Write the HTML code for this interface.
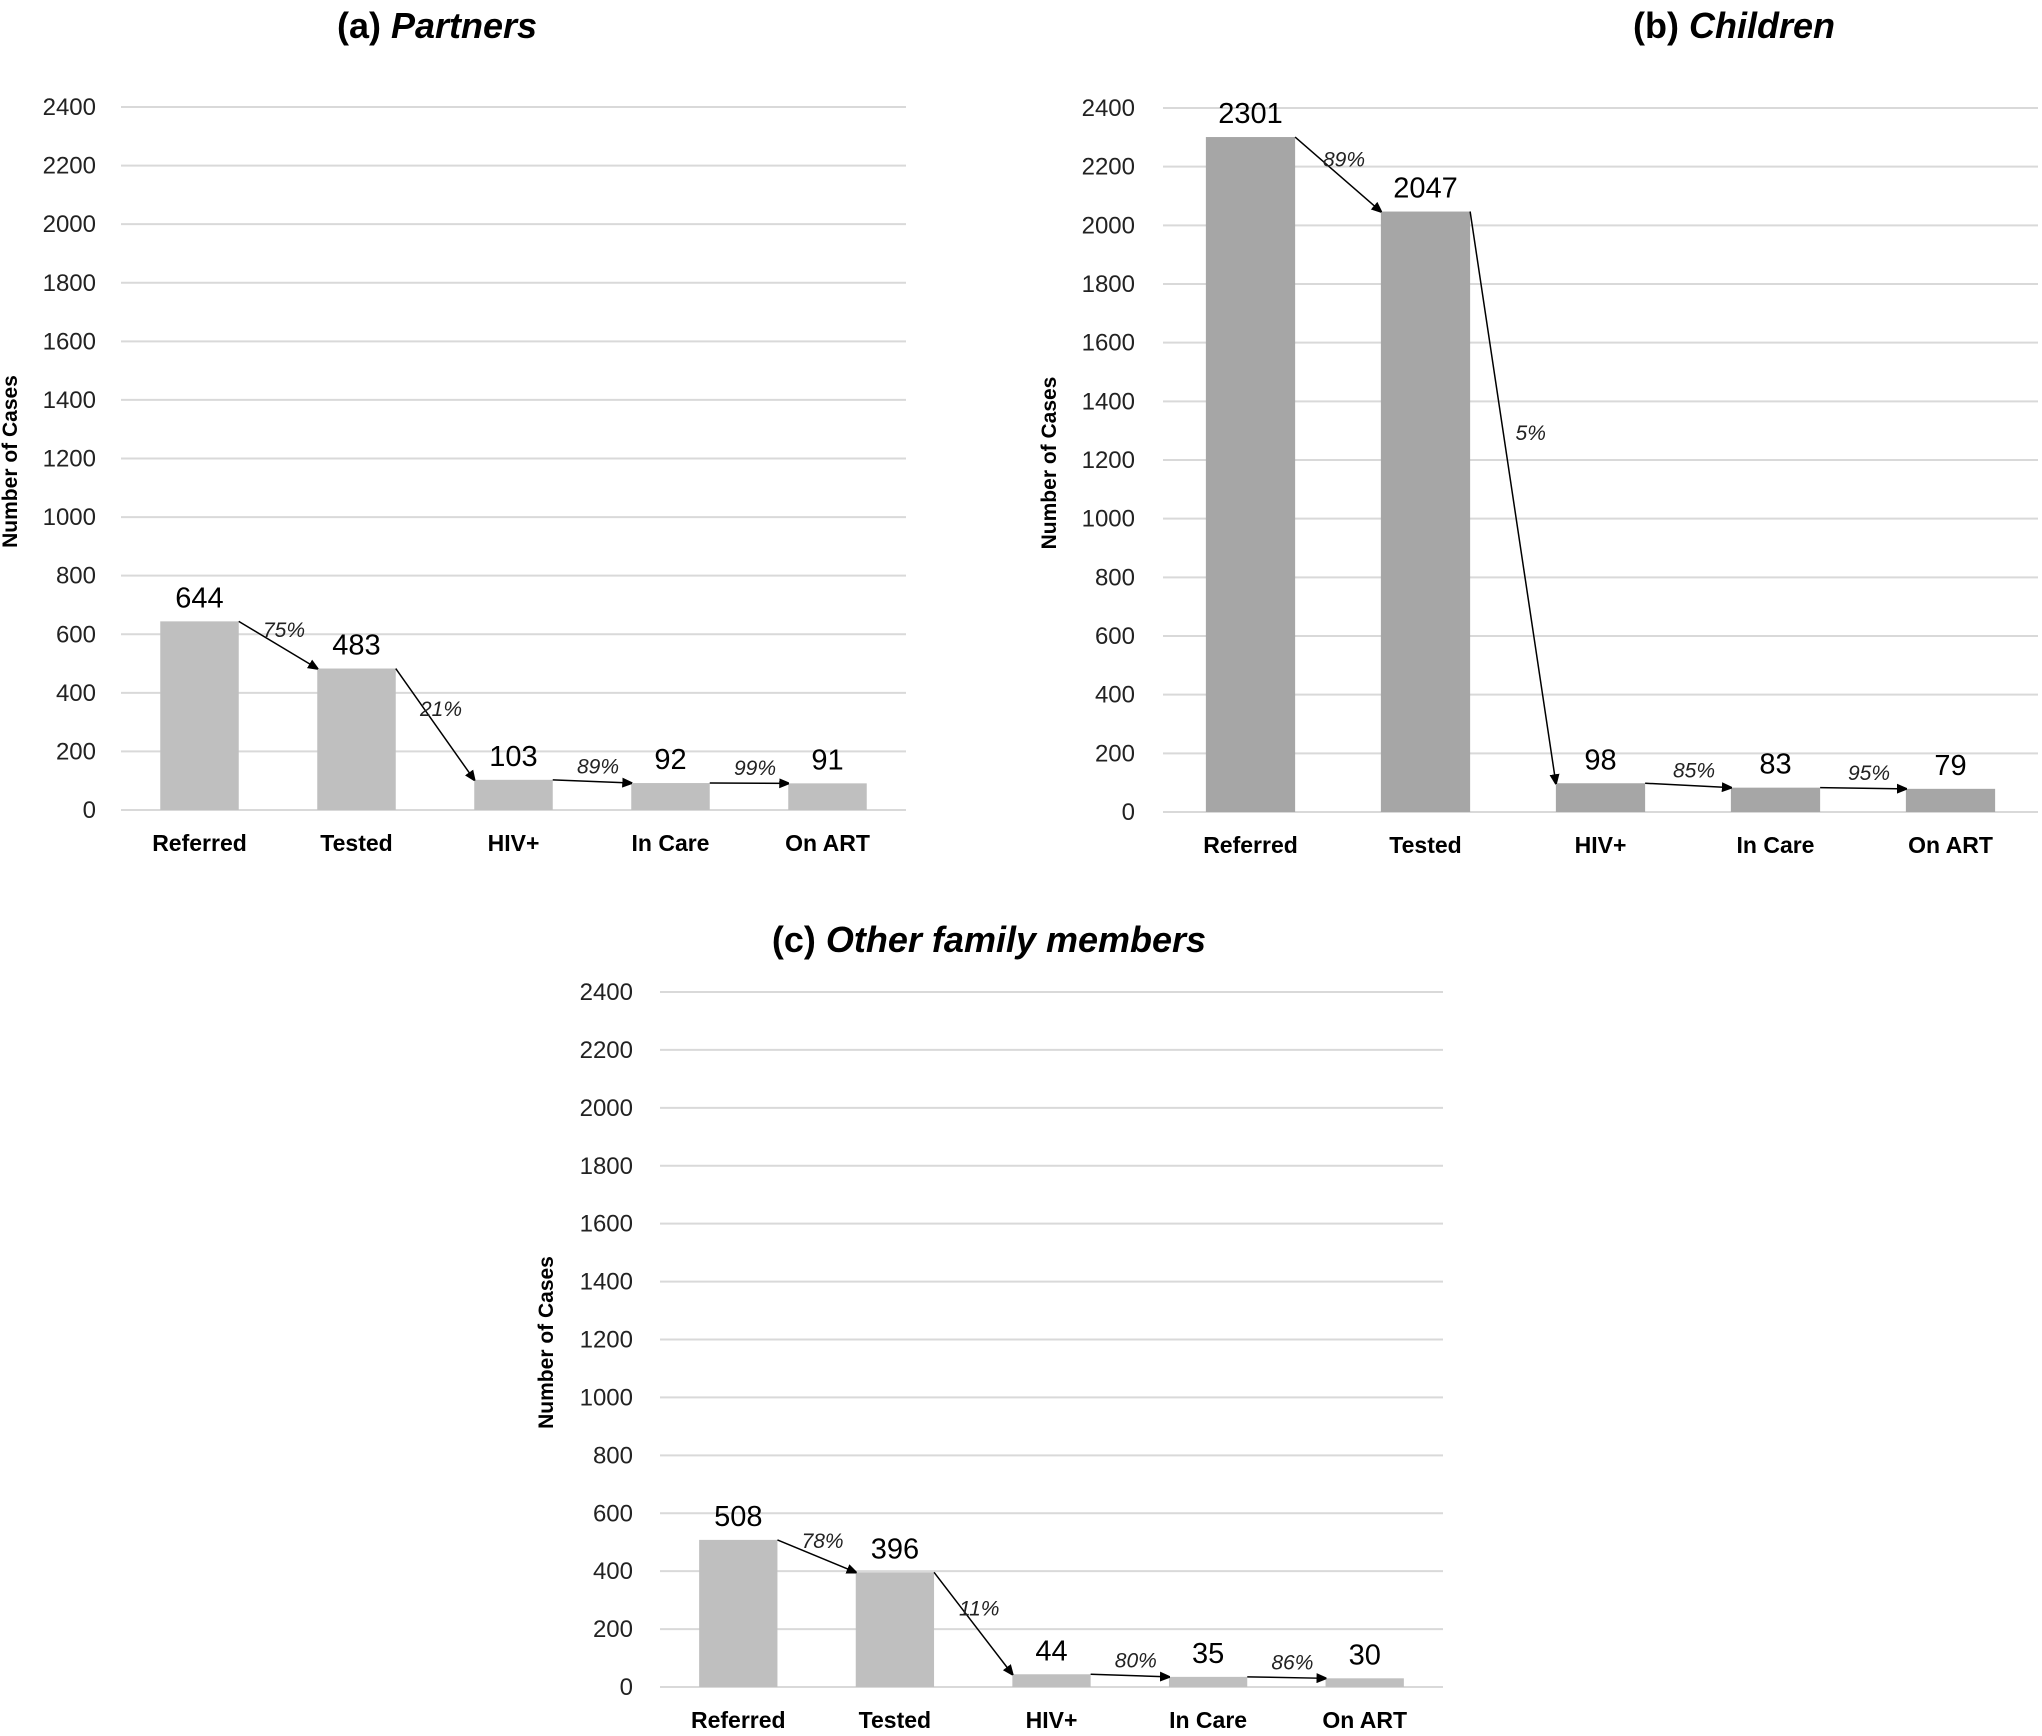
<!DOCTYPE html>
<html><head><meta charset="utf-8"><style>
html,body{margin:0;padding:0;background:#fff}
svg{display:block}
text{font-family:"Liberation Sans",sans-serif}
</style></head><body>
<svg id="fig" width="2042" height="1736" viewBox="0 0 2042 1736" xmlns="http://www.w3.org/2000/svg">
<defs><marker id="ah" markerWidth="10" markerHeight="10" refX="9" refY="5" orient="auto" markerUnits="userSpaceOnUse"><path d="M0,0 L12,5 L0,10 z" fill="#000"/></marker></defs>
</svg>
<script>
const categories = ["Referred","Tested","HIV+","In Care","On ART"];
const tickValues = [0,200,400,600,800,1000,1200,1400,1600,1800,2000,2200,2400];
const partnersValues = [644,483,103,92,91];
const partnersPct = ["75%","21%","89%","99%"];
const childrenValues = [2301,2047,98,83,79];
const childrenPct = ["89%","5%","85%","95%"];
const otherValues = [508,396,44,35,30];
const otherPct = ["78%","11%","80%","86%"];

const NS="http://www.w3.org/2000/svg";
const svg=document.getElementById('fig');
function mk(tag,attrs,parent,txt){const e=document.createElementNS(NS,tag);for(const k in attrs)e.setAttribute(k,attrs[k]);if(txt!==undefined)e.textContent=txt;(parent||svg).appendChild(e);return e;}

const panels=[
 {key:"partners",label:"(a)",name:"Partners",vals:partnersValues,pct:partnersPct,x0:121,x1:906,yT:107,y0:810,tickR:96,ylabX:17,titleX:437,titleY:38,color:"#bfbfbf",bw:0.5},
 {key:"children",label:"(b)",name:"Children",vals:childrenValues,pct:childrenPct,x0:1163,x1:2038,yT:108,y0:812,tickR:1135,ylabX:1056,titleX:1734,titleY:38,color:"#a6a6a6",bw:0.51},
 {key:"other",label:"(c)",name:"Other family members",vals:otherValues,pct:otherPct,x0:660,x1:1443,yT:992,y0:1687,tickR:633,ylabX:553,titleX:989,titleY:952,color:"#bfbfbf",bw:0.5}
];

panels.forEach(p=>{
  const g=mk('g',{});
  
  
  const maxV=2400;
  const y=v=>p.y0-(v/maxV)*(p.y0-p.yT);
  const band=(p.x1-p.x0)/categories.length;
  const cx=i=>p.x0+band*(i+0.5);
  const bw=band*p.bw;
  const t=mk('text',{x:p.titleX,y:p.titleY,'text-anchor':'middle','font-size':36,'font-weight':'bold',fill:'#000'},g);
  
  
  mk('tspan',{},t,p.label+' ');
  mk('tspan',{'font-style':'italic'},t,p.name);
  tickValues.forEach(v=>{
    const l=mk('line',{x1:p.x0,x2:p.x1,y1:y(v),y2:y(v),stroke:'#d9d9d9','stroke-width':2},g);
    
    
    const tl=mk('text',{x:p.tickR,y:y(v)+8,'text-anchor':'end','font-size':24,fill:'#222'},g,String(v));
    
    
  });
  const yc=(p.y0+p.yT)/2+3;
  const yl=mk('text',{x:p.ylabX,y:yc,'text-anchor':'middle','font-size':21,'font-weight':'bold',fill:'#000',transform:`rotate(-90 ${p.ylabX} ${yc})`},g,'Number of Cases');
  
  
  p.vals.forEach((v,i)=>{
    const r=mk('rect',{x:cx(i)-bw/2,y:y(v),width:bw,height:p.y0-y(v),fill:p.color},g);
    
    
    const vl=mk('text',{x:cx(i),y:y(v)-14,'text-anchor':'middle','font-size':29,fill:'#000'},g,String(v));
    
    
    const cl=mk('text',{x:cx(i),y:p.y0+41,'text-anchor':'middle','font-size':23,'font-weight':'bold',fill:'#000'},g,categories[i]);
    
    
  });
  for(let i=0;i<p.vals.length-1;i++){
    const xa=cx(i)+bw/2, ya=y(p.vals[i]);
    const xb=cx(i+1)-bw/2, yb=y(p.vals[i+1]);
    const a=mk('line',{x1:xa,y1:ya,x2:xb,y2:yb,stroke:'#000','stroke-width':1.5,'marker-end':'url(#ah)'},g);
    
    
    const steep=Math.abs(yb-ya)>150;
    const mx=(xa+xb)/2, my=(ya+yb)/2;
    const px=steep? xa+(xb-xa)*0.45+22 : mx+6;
    const py=steep? ya+(yb-ya)*0.4 : my-8;
    const pl=mk('text',{x:px,y:py,'text-anchor':'middle','font-size':21,'font-style':'italic',fill:'#222'},g,p.pct[i]);
    
    
  }
});
</script>
</body></html>
